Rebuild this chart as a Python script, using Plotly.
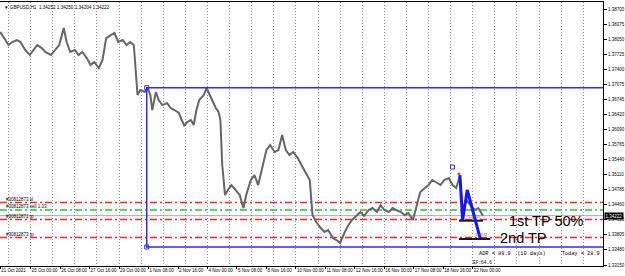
import plotly.graph_objects as go

# ---- data (hourly bars, weekends removed; bar 0 = 21 Oct 2021 15:00) ----
bars = [0, 5, 9, 13, 18, 22, 27, 32, 36, 40, 45, 49, 55, 60, 64, 69, 72, 76, 81, 85,
        89, 94, 98, 102, 107, 111, 115, 120, 124, 128, 133, 137, 141, 145, 147, 149, 152, 157, 160, 163,
        165, 169, 172, 176, 181, 185, 189, 194, 197, 200, 203, 207, 210, 213, 216, 221, 224, 227, 230, 234,
        237, 239, 241, 244, 247, 251, 255, 260, 264, 267, 272, 276, 280, 285, 289, 293, 298, 302, 306, 310,
        314, 318, 323, 327, 331, 336, 339, 343, 348, 352, 356, 361, 365, 369, 374, 378, 382, 387, 391, 395,
        400, 404, 409, 413, 417, 422, 426, 430, 435, 439, 443, 448, 452, 456, 461, 465, 469, 474, 478, 482,
        487, 491, 495, 499, 502, 506, 511, 515, 519, 524]
close = [1.38208, 1.38034, 1.37925, 1.37991, 1.38034, 1.37991, 1.37817, 1.37708, 1.37817, 1.37925,
         1.37860, 1.37774, 1.37708, 1.37817, 1.37925, 1.38294, 1.37991, 1.37774, 1.37817, 1.37708,
         1.37774, 1.37643, 1.37491, 1.37557, 1.37426, 1.37600, 1.38077, 1.38142, 1.38186, 1.37991,
         1.38034, 1.37925, 1.37991, 1.37925, 1.37274, 1.36840, 1.36949, 1.36906, 1.36992, 1.36840,
         1.36515, 1.36906, 1.36732, 1.36623, 1.36667, 1.36558, 1.36515, 1.36450, 1.36298, 1.36168,
         1.36255, 1.36298, 1.36189, 1.36515, 1.36732, 1.36840, 1.36992, 1.36840, 1.36732, 1.36558,
         1.36472, 1.36298, 1.35321, 1.34670, 1.34779, 1.34887, 1.34779, 1.34670, 1.34388, 1.34670,
         1.34996, 1.35104, 1.34887, 1.35321, 1.35647, 1.35755, 1.35604, 1.35647, 1.35972, 1.35647,
         1.35538, 1.35604, 1.35473, 1.35321, 1.35170, 1.34996, 1.34236, 1.34085, 1.33954, 1.33868,
         1.33911, 1.33737, 1.33694, 1.33629, 1.33868, 1.34019, 1.34128, 1.34236, 1.34302, 1.34215,
         1.34345, 1.34388, 1.34302, 1.34453, 1.34345, 1.34302, 1.34388, 1.34345, 1.34302, 1.34236,
         1.34280, 1.34128, 1.34453, 1.34736, 1.34822, 1.34887, 1.34996, 1.34931, 1.34887, 1.34996,
         1.35039, 1.34887, 1.34822, 1.35083, 1.34345, 1.34562, 1.34453, 1.34345, 1.34388, 1.34222]

y_ticks = [1.38700, 1.38375, 1.38050, 1.37725, 1.37400, 1.37075, 1.36745, 1.36420, 1.36090,
           1.35765, 1.35440, 1.35110, 1.34785, 1.34460, 1.34135, 1.33805, 1.33480, 1.33150]
x_tick_bars = [0, 33, 65, 97, 129, 161, 193, 225, 257, 289, 321, 353, 385, 417, 449, 481, 513]
x_tick_labels = ["21 Oct 2021", "25 Oct 00:00", "26 Oct 08:00", "27 Oct 16:00", "29 Oct 00:00",
                 "1 Nov 08:00", "2 Nov 16:00", "4 Nov 00:00", "5 Nov 08:00", "8 Nov 16:00",
                 "10 Nov 00:00", "11 Nov 08:00", "12 Nov 16:00", "16 Nov 00:00", "17 Nov 08:00",
                 "18 Nov 16:00", "22 Nov 00:00"]
first_day_start = 9      # bar of 22 Oct 00:00
bars_per_day = 24

symbol_header = "▼ GBPUSD,H1  1.34252 1.34250 1.34204 1.34222"
bid = 1.34222

# order lines
order_levels = [1.34508, 1.34345, 1.34139, 1.33748]
order_colors = ["#ff2020", "#22cc22", "#ff2020", "#ff2020"]
order_labels = ["#30812873 sl", "#30812873 sell 1.03", "#30812871 tp", "#30812873 tp"]

# blue box (drawn object)
box_bar = 159
box_top = 1.37000
box_bottom = 1.33542

# projected zigzag
zig_bars = [499, 502, 507, 521]
zig_prices = [1.35104, 1.34128, 1.34779, 1.33737]
marker_bar, marker_price = 491, 1.35278
dot_bar, dot_price = 498, 1.35126

tp_line_bars = [[498, 524], [498, 532]]
tp_line_prices = [1.34113, 1.33716]
tp_small_text = ["1.3411", "1.3372"]
tp_text = ["1st TP 50%", "2nd TP"]
tp_text_bars = [550, 540]
tp_text_prices = [1.34100, 1.33730]

adr_text = "ADR = 88.9  (10 days)     Today = 28.9"
ef_text = "EF:64.6"

x_range = [-0.3, 654.4]
y_range = [1.33130, 1.38859]

fig = go.Figure()

# price series
fig.add_trace(go.Scatter(x=bars, y=close, mode="lines",
                         line=dict(color="#666666", width=2), hoverinfo="skip"))

# order lines
for lvl, col in zip(order_levels, order_colors):
    fig.add_shape(type="line", xref="paper", x0=0, x1=1, y0=lvl, y1=lvl,
                  line=dict(color=col, width=1.6, dash="7px,3px,2px,3px"), layer="below")
for lvl, txt in zip(order_levels, order_labels):
    fig.add_annotation(x=0, xref="paper", y=lvl, yref="y", text=txt, showarrow=False,
                       xanchor="left", yanchor="bottom", xshift=4, yshift=-1,
                       font=dict(family="Liberation Sans", size=4.5, color="#000000"))
# bid line
fig.add_shape(type="line", xref="paper", x0=0, x1=1, y0=bid, y1=bid,
              line=dict(color="#a8a8a8", width=1), layer="below")

# blue box lines
fig.add_trace(go.Scatter(x=[x_range[1], box_bar, box_bar, x_range[1]],
                         y=[box_top, box_top, box_bottom, box_bottom], mode="lines",
                         line=dict(color="#2b2bff", width=1.5), hoverinfo="skip"))
fig.add_trace(go.Scatter(x=[box_bar, box_bar], y=[box_top, box_bottom], mode="markers",
                         marker=dict(symbol="square-open", size=4, color="#2b2bff", line=dict(width=1)),
                         hoverinfo="skip"))

# TP lines (black)
for bx, p in zip(tp_line_bars, tp_line_prices):
    fig.add_trace(go.Scatter(x=bx, y=[p, p], mode="lines", line=dict(color="#1a1a1a", width=2),
                             hoverinfo="skip"))
for bx, p, t in zip(tp_line_bars, tp_line_prices, tp_small_text):
    fig.add_annotation(x=bx[1], y=p, text=t, showarrow=False, xanchor="right", yanchor="bottom",
                       yshift=0, font=dict(family="Liberation Sans", size=4, color="#555555"))

# zigzag
fig.add_trace(go.Scatter(x=zig_bars, y=zig_prices, mode="lines",
                         line=dict(color="#1414ff", width=3), hoverinfo="skip"))
fig.add_trace(go.Scatter(x=[marker_bar], y=[marker_price], mode="markers",
                         marker=dict(symbol="square-open", size=4, color="#2b2bff", line=dict(width=1)),
                         hoverinfo="skip"))
fig.add_trace(go.Scatter(x=[dot_bar], y=[dot_price], mode="markers",
                         marker=dict(symbol="circle", size=3, color="#ff3030"), hoverinfo="skip"))

for t, bx, p in zip(tp_text, tp_text_bars, tp_text_prices):
    fig.add_annotation(x=bx, y=p, text=t, showarrow=False, xanchor="left", yanchor="middle",
                       font=dict(family="Liberation Sans", size=14.5, color="#000000"))

# header / info text
fig.add_annotation(x=0, xref="paper", y=1, yref="paper", text=symbol_header, showarrow=False,
                   xanchor="left", yanchor="top", xshift=2, yshift=-1,
                   font=dict(family="Liberation Sans", size=4.6, color="#000000"))
fig.add_annotation(x=1, xref="paper", y=0, yref="paper", text=adr_text, showarrow=False,
                   xanchor="right", yanchor="bottom", xshift=-1, yshift=7,
                   font=dict(family="Liberation Mono", size=5.3, color="#000000"))
fig.add_annotation(x=tp_line_bars[0][0], y=0, yref="paper", text=ef_text, showarrow=False,
                   xanchor="left", yanchor="bottom", xshift=12, yshift=-1,
                   font=dict(family="Liberation Mono", size=4.5, color="#000000"))

# current price box
fig.add_annotation(x=1, xref="paper", y=bid, yref="y", text="1.34222", showarrow=False,
                   xanchor="left", yanchor="middle", xshift=1, bgcolor="#000000", borderpad=0.5,
                   font=dict(family="Liberation Sans", size=4.5, color="#ffffff"))

fig.update_layout(
    width=625, height=276,
    margin=dict(l=0, r=22, t=2, b=10),
    paper_bgcolor="#ffffff", plot_bgcolor="#ffffff",
    showlegend=False,
    font=dict(family="Liberation Sans", size=4.5, color="#000000"),
    xaxis=dict(range=x_range, tickmode="array", tickvals=x_tick_bars, ticktext=x_tick_labels,
               tickangle=0, automargin=False,
               ticks="outside", ticklen=2, tickcolor="#000000", ticklabelposition="outside right",
               showgrid=False, zeroline=False, showline=True, linecolor="#000000", linewidth=1,
               mirror=True, tickfont=dict(size=4.5),
               minor=dict(tick0=first_day_start, dtick=bars_per_day, showgrid=True,
                          gridcolor="#8c8c8c", griddash="1px,2px", gridwidth=1, ticks="")),
    yaxis=dict(range=y_range, side="right", tickmode="array", tickvals=y_ticks, automargin=False,
               ticktext=[f"{v:.5f}" for v in y_ticks], ticks="outside", ticklen=3,
               tickcolor="#000000", showgrid=False, zeroline=False, showline=True,
               linecolor="#000000", linewidth=1, mirror=True, tickfont=dict(size=4.5)),
)

fig.write_html("out.html")
